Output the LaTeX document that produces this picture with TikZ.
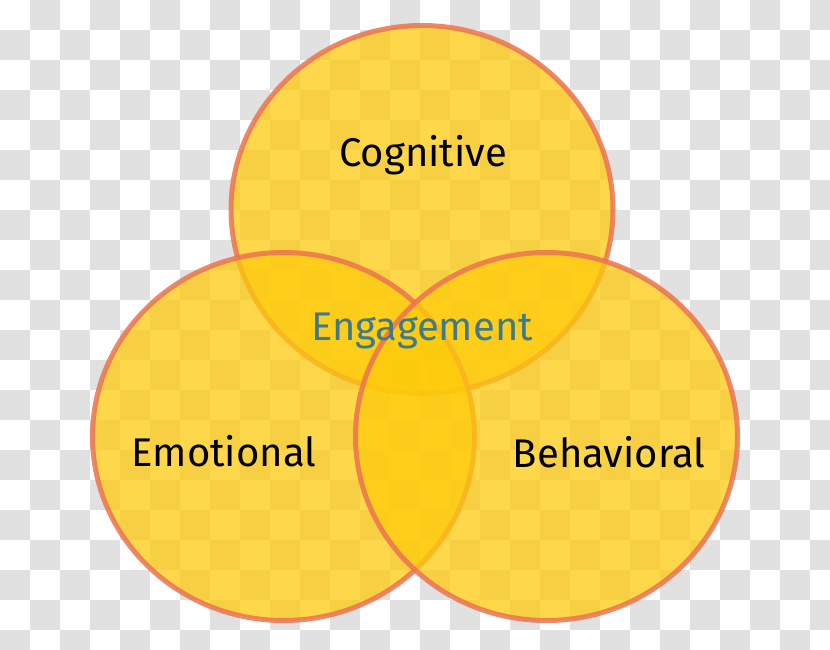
\documentclass[tikz,border=0pt]{standalone}
\usepackage{fontspec}
\setmainfont{Fira Sans}
\usetikzlibrary{shapes.geometric}
\definecolor{checker}{RGB}{225,225,225}
\definecolor{circfill}{RGB}{254,203,11}
\definecolor{circline}{RGB}{236,116,80}
\definecolor{engage}{RGB}{62,122,140}
\begin{document}
\begin{tikzpicture}[x=1pt,y=-1pt,
  venn/.style={ellipse, minimum width=382pt, minimum height=368pt, inner sep=0pt, outer sep=0pt,
    fill=circfill, fill opacity=0.74, draw=circline, draw opacity=0.85, line width=5pt},
  vlabel/.style={font=\fontsize{40}{48}\selectfont, text=black, inner sep=0pt}]
\useasboundingbox (0,0) rectangle (830,650);
\fill[white] (0,0) rectangle (830,650);
\foreach \i in {0,...,27}{
  \foreach \j in {0,...,21}{
    \pgfmathtruncatemacro\myparity{mod(\i+\j,2)}
    \ifnum\myparity=1 \fill[checker] (\i*30,\j*30) rectangle ++(30,30); \fi
  }
}
\node[venn] (cog) at (422,209.5) {};
\node[venn] (emo) at (283.5,436.5) {};
\node[venn] (beh) at (546.5,436.5) {};
\node[vlabel] (tcog) at (423,155) {Cognitive};
\node[vlabel] (temo) at (224,451) {Emotional};
\node[vlabel] (tbeh) at (609,452) {Behavioral};
\node[vlabel, text=engage] (teng) at (422,331) {Engagement};
\end{tikzpicture}
\end{document}
